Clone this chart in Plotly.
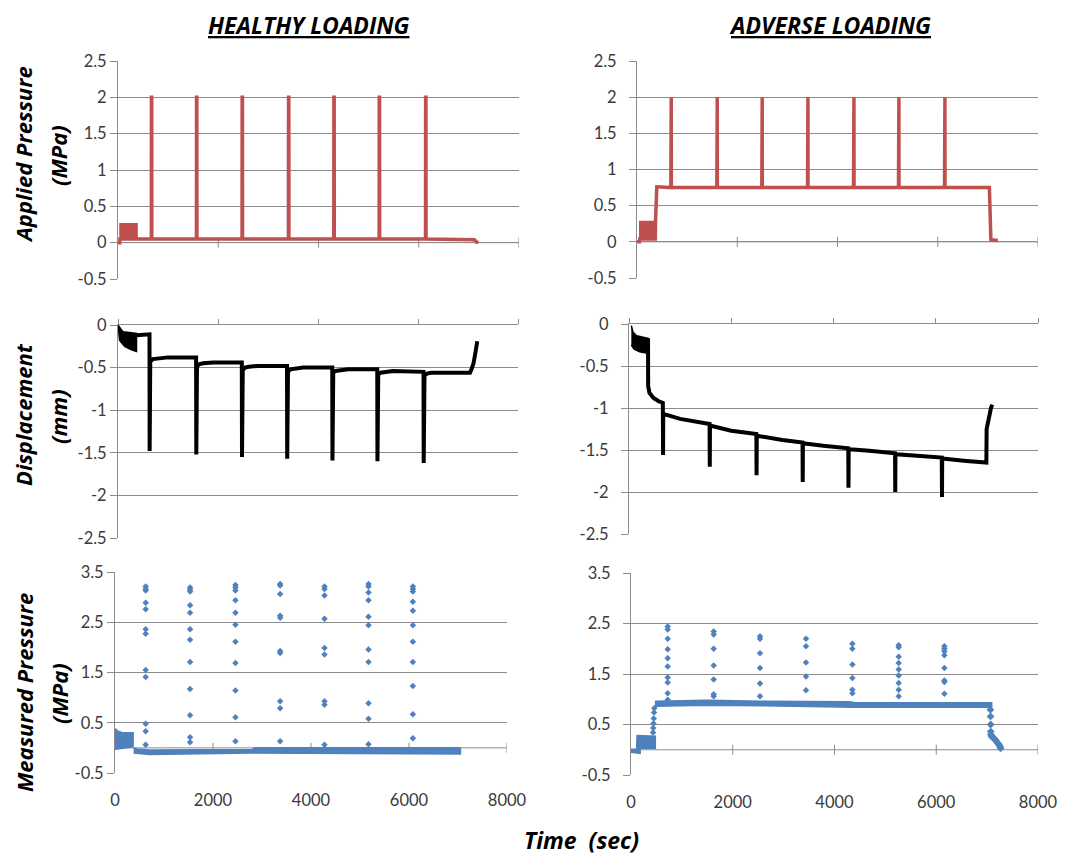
import plotly.graph_objects as go

W, H = 1077, 855
RED = "#C0504D"
BLUE = "#4F81BD"
BLACK = "#000000"
GRID = "#8c8c8c"
TXT = "#3a3a3a"
FONT = "Lato"
TFONT = "Open Sans"

# ---------------- data ----------------
time_ticks = [0, 2000, 4000, 6000, 8000]

# Applied pressure, healthy loading (MPa)
ha_t = [0, 35, 40, 665, 667, 673, 675, 1565, 1567, 1573, 1575, 2475, 2477, 2483, 2485,
        3400, 3402, 3408, 3410, 4305, 4307, 4313, 4315, 5210, 5212, 5218, 5220,
        6135, 6137, 6143, 6145, 7060, 7110, 7150, 7190]
ha_p = [0, 0, 0.05, 0.05, 2, 2, 0.05, 0.05, 2, 2, 0.05, 0.05, 2, 2, 0.05,
        0.05, 2, 2, 0.05, 0.05, 2, 2, 0.05, 0.05, 2, 2, 0.05,
        0.05, 2, 2, 0.05, 0.05, 0.04, 0.01, 0.0]
ha_block_t = [40, 380, 380, 40, 40]
ha_block_p = [0.05, 0.05, 0.26, 0.26, 0.05]

# Applied pressure, adverse loading (MPa)
aa_t = [0, 50, 55, 365, 370, 395, 675, 677, 683, 685, 1593, 1595, 1601, 1603,
        2490, 2492, 2498, 2500, 3402, 3404, 3410, 3412, 4320, 4322, 4328, 4330,
        5217, 5219, 5225, 5227, 6135, 6137, 6143, 6145, 7030, 7040, 7050, 7060, 7200]
aa_p = [0, 0, 0.04, 0.04, 0.3, 0.76, 0.75, 2, 2, 0.75, 0.75, 2, 2, 0.75,
        0.75, 2, 2, 0.75, 0.75, 2, 2, 0.75, 0.75, 2, 2, 0.75,
        0.75, 2, 2, 0.75, 0.75, 2, 2, 0.75, 0.75, 0.55, 0.22, 0.03, 0.02]
aa_block_t = [55, 370, 370, 55, 55]
aa_block_p = [0.04, 0.04, 0.28, 0.28, 0.04]

# Displacement, healthy loading (mm)
hd_block_t = [0, 100, 370, 370, 267, 133, 33, 0]
hd_block_d = [0, -0.08, -0.10, -0.31, -0.29, -0.25, -0.18, 0]
hd_t = [370, 630, 633, 637, 645, 700, 800, 1000,
        1562, 1566, 1570, 1580, 1620, 1700, 1900,
        2476, 2480, 2484, 2495, 2540, 2620, 2800,
        3380, 3384, 3388, 3400, 3450, 3530, 3700,
        4285, 4289, 4293, 4305, 4350, 4430, 4600,
        5185, 5189, 5193, 5205, 5250, 5330, 5500,
        6110, 6114, 6118, 6130, 6180, 6260, 6450,
        7040, 7070, 7110, 7150, 7185]
hd_d = [-0.12, -0.11, -1.48, -0.50, -0.43, -0.40, -0.39, -0.38,
        -0.38, -1.52, -0.56, -0.49, -0.46, -0.45, -0.44,
        -0.44, -1.55, -0.58, -0.53, -0.50, -0.49, -0.48,
        -0.48, -1.57, -0.60, -0.55, -0.52, -0.51, -0.50,
        -0.50, -1.59, -0.61, -0.56, -0.54, -0.53, -0.52,
        -0.52, -1.60, -0.62, -0.58, -0.56, -0.55, -0.54,
        -0.55, -1.62, -0.63, -0.59, -0.57, -0.56, -0.56,
        -0.56, -0.52, -0.45, -0.32, -0.19]

# Displacement, adverse loading (mm)
ad_block_t = [46, 80, 150, 372, 372, 209, 100, 46]
ad_block_d = [-0.02, -0.10, -0.14, -0.17, -0.35, -0.33, -0.30, -0.25]
ad_t = [372, 375, 400, 480, 580, 662, 666, 670, 1000, 1576, 1580, 1584, 2000,
        2491, 2495, 2499, 3000, 3394, 3398, 3402, 3800, 4289, 4293, 4297, 4700,
        5204, 5208, 5212, 5700, 6118, 6122, 6126, 6600, 6990, 6995, 7010, 7040, 7080, 7105]
ad_d = [-0.17, -0.74, -0.82, -0.88, -0.92, -0.94, -1.56, -1.07, -1.13, -1.19, -1.70, -1.21, -1.27,
        -1.31, -1.80, -1.33, -1.38, -1.41, -1.88, -1.42, -1.45, -1.48, -1.95, -1.49, -1.51,
        -1.54, -2.00, -1.55, -1.57, -1.59, -2.06, -1.60, -1.63, -1.65, -1.25, -1.20, -1.10, -1.00, -0.96]

# Measured pressure, healthy loading (MPa)
hm_band1_t = [0, 10, 60, 150, 370, 370, 0]
hm_band1_p = [0.02, 0.38, 0.33, 0.30, 0.30, 0.02, -0.03]
hm_band2_t = [380, 450, 700, 2800, 2850, 7040, 7050, 7050, 2800, 700, 380]
hm_band2_p = [0.0, -0.02, -0.04, -0.03, 0.0, 0.0, -0.03, -0.12, -0.10, -0.13, -0.10]
hm_col_t = [626, 1532, 2458, 3370, 4275, 5174, 6079]
hm_col_p = [
    [3.21, 3.16, 3.13, 2.89, 2.76, 2.36, 2.27, 1.55, 1.41, 0.48, 0.33, 0.06],
    [3.19, 3.15, 3.11, 2.84, 2.69, 2.36, 2.15, 1.71, 1.17, 0.65, 0.21, 0.11],
    [3.24, 3.19, 3.13, 2.94, 2.69, 2.45, 2.11, 1.69, 1.14, 0.61, 0.13],
    [3.26, 3.23, 3.06, 2.63, 2.59, 1.93, 1.89, 0.93, 0.79, 0.13],
    [3.21, 3.16, 3.03, 2.57, 1.99, 1.86, 0.93, 0.86, 0.06],
    [3.26, 3.21, 3.09, 2.94, 2.61, 2.44, 1.96, 1.71, 0.89, 0.58, 0.07],
    [3.21, 3.16, 3.11, 2.91, 2.73, 2.44, 2.11, 1.71, 1.23, 0.67, 0.19],
]

# Measured pressure, adverse loading (MPa)
am_band0_t = [0, 180, 180, 0, 0]
am_band0_p = [0.01, 0.01, -0.07, -0.05, 0.01]
am_band1_t = [110, 120, 478, 478, 110]
am_band1_p = [0.03, 0.28, 0.27, 0.03, 0.03]
am_rise_t = [432, 437, 442, 447, 452, 458]
am_rise_p = [0.34, 0.43, 0.52, 0.62, 0.74, 0.82]
am_band2_t = [470, 1500, 2600, 4300, 4400, 7090, 7090, 4400, 2600, 1500, 470]
am_band2_p = [0.96, 0.98, 0.96, 0.95, 0.93, 0.93, 0.84, 0.84, 0.87, 0.88, 0.86]
am_drop_t = [7065, 7067, 7069, 7071, 7075, 7085, 7100, 7120, 7140, 7160, 7180, 7200, 7220, 7240, 7255, 7265]
am_drop_p = [0.79, 0.66, 0.50, 0.36, 0.30, 0.27, 0.25, 0.24, 0.22, 0.20, 0.17, 0.14, 0.12, 0.09, 0.06, 0.03]
am_col_t = [721, 1625, 2536, 3440, 4351, 5262, 6160]
am_col_p = [
    [2.44, 2.38, 2.20, 1.99, 1.81, 1.65, 1.43, 1.33, 1.12, 0.99],
    [2.34, 2.28, 2.00, 1.67, 1.39, 1.10, 1.06],
    [2.25, 2.20, 1.91, 1.62, 1.31, 1.06],
    [2.20, 2.05, 1.73, 1.45, 1.18],
    [2.10, 2.00, 1.69, 1.42, 1.19, 1.12],
    [2.07, 2.03, 1.84, 1.72, 1.59, 1.47, 1.32, 1.19, 1.06],
    [2.05, 2.00, 1.95, 1.87, 1.62, 1.37, 1.34, 1.11],
]

# axis tick values per row
row_ticks = {
    1: [-0.5, 0, 0.5, 1, 1.5, 2, 2.5],
    2: [-2.5, -2, -1.5, -1, -0.5, 0],
    3: [-0.5, 0.5, 1.5, 2.5, 3.5],
}
row_range = {1: [-0.5, 2.5], 2: [-2.5, 0], 3: [-0.5, 3.5]}

# panel pixel boxes in the picture: (left, right, top, bottom), row, column
panels = {
    1: ((118, 519, 61, 279), 1, 1),
    2: ((637, 1038, 61, 278), 1, 2),
    3: ((118, 518, 325, 538), 2, 1),
    4: ((629, 1038, 324, 534), 2, 2),
    5: ((115, 507, 572, 773), 3, 1),
    6: ((631, 1038, 573, 775), 3, 2),
}

def px(x):
    return x / W

def py(y):
    return 1 - y / H

def fmt(v):
    return ("%g" % v).replace("\u2212", "-")

fig = go.Figure()

def ax(i):
    return ("x" if i == 1 else "x%d" % i), ("y" if i == 1 else "y%d" % i)

# ---- traces ----
def poly(i, t, v, color):
    xa, ya = ax(i)
    fig.add_trace(go.Scatter(x=t, y=v, xaxis=xa, yaxis=ya, mode="lines", fill="toself",
                             fillcolor=color, line=dict(color=color, width=1.5),
                             hoverinfo="skip", showlegend=False))

def line(i, t, v, color, width):
    xa, ya = ax(i)
    fig.add_trace(go.Scatter(x=t, y=v, xaxis=xa, yaxis=ya, mode="lines",
                             line=dict(color=color, width=width),
                             hoverinfo="skip", showlegend=False))

def pts(i, t, v, color, size=5):
    xa, ya = ax(i)
    fig.add_trace(go.Scatter(x=t, y=v, xaxis=xa, yaxis=ya, mode="markers",
                             marker=dict(color=color, size=size, symbol="diamond"),
                             hoverinfo="skip", showlegend=False))

def cols(i, col_t, col_p, color):
    xs, ys = [], []
    for t, vals in zip(col_t, col_p):
        for v in vals:
            xs.append(t)
            ys.append(v)
    pts(i, xs, ys, color)

# Applied pressure
poly(1, ha_block_t, ha_block_p, RED)
line(1, ha_t, ha_p, RED, 3.5)
poly(2, aa_block_t, aa_block_p, RED)
line(2, aa_t, aa_p, RED, 3.5)
# Displacement
poly(3, hd_block_t, hd_block_d, BLACK)
line(3, hd_t, hd_d, BLACK, 4)
poly(4, ad_block_t, ad_block_d, BLACK)
line(4, ad_t, ad_d, BLACK, 4)
# Measured pressure
poly(5, hm_band1_t, hm_band1_p, BLUE)
poly(5, hm_band2_t, hm_band2_p, BLUE)
cols(5, hm_col_t, hm_col_p, BLUE)
poly(6, am_band0_t, am_band0_p, BLUE)
poly(6, am_band1_t, am_band1_p, BLUE)
pts(6, am_rise_t, am_rise_p, BLUE)
poly(6, am_band2_t, am_band2_p, BLUE)
pts(6, am_drop_t, am_drop_p, BLUE, 6)
cols(6, am_col_t, am_col_p, BLUE)

# ---- axes ----
layout = dict(
    width=W, height=H, margin=dict(l=0, r=0, t=0, b=0),
    paper_bgcolor="white", plot_bgcolor="white",
    font=dict(family=FONT, size=16, color=TXT),
    showlegend=False,
)
TICKF = dict(family=FONT, size=16.5, color=TXT)
shapes = []
for i, ((l, r, t, b), row, col) in panels.items():
    xkey = "xaxis" if i == 1 else "xaxis%d" % i
    ykey = "yaxis" if i == 1 else "yaxis%d" % i
    xa, ya = ax(i)
    xdom = [px(l), px(r)]
    ydom = [py(b), py(t)]
    xdict = dict(domain=xdom, range=[0, 8000], anchor=ya, showgrid=False, zeroline=False,
                 tickvals=time_ticks, ticktext=[str(v) for v in time_ticks],
                 fixedrange=True, automargin=False)
    if row == 3:
        xdict.update(showline=False, showticklabels=True, ticks="outside", ticklen=12,
                     tickcolor="rgba(0,0,0,0)", tickfont=TICKF)
    elif row == 2:
        xdict.update(side="top", showline=True, linecolor=GRID, linewidth=1,
                     ticks="outside", ticklen=5, tickcolor=GRID, showticklabels=False)
    else:
        xdict.update(showline=False, showticklabels=False, ticks="")
    layout[xkey] = xdict
    tv = row_ticks[row]
    layout[ykey] = dict(domain=ydom, range=row_range[row], anchor=xa, showgrid=True,
                        gridcolor=GRID, gridwidth=1, zeroline=False, showline=True,
                        linecolor=GRID, linewidth=1, ticks="outside", ticklen=7,
                        tickcolor=GRID, tickvals=tv, ticktext=[fmt(v) for v in tv],
                        ticklabelstandoff=(9 if col == 2 else 0), automargin=False,
                        tickfont=TICKF, fixedrange=True)
    if row in (1, 3):
        shapes.append(dict(type="line", xref=xa, yref=ya, x0=0, x1=8000, y0=0, y1=0,
                           line=dict(color=GRID, width=1), layer="between"))
        for tk in time_ticks[1:]:
            shapes.append(dict(type="line", xref=xa, yref=ya, x0=tk, x1=tk,
                               ysizemode="pixel", yanchor=0, y0=-5, y1=5,
                               line=dict(color=GRID, width=1), layer="between"))
layout["shapes"] = shapes

TF = dict(family=TFONT, size=23, color="black")
YF = dict(family=TFONT, size=22, color="black")
ann = [
    dict(text="<b><i><u>HEALTHY LOADING</u></i></b>", x=px(309), y=py(25), font=TF),
    dict(text="<b><i><u>ADVERSE LOADING</u></i></b>", x=px(830), y=py(25), font=TF),
    dict(text="<b><i>Time  (sec)</i></b>", x=px(581), y=py(840), font=TF),
    dict(text="<b><i>Applied Pressure</i></b>", x=px(23), y=py(155), font=YF, textangle=-90),
    dict(text="<b><i>(MPa)</i></b>", x=px(58), y=py(156), font=YF, textangle=-90),
    dict(text="<b><i>Displacement</i></b>", x=px(23), y=py(415), font=YF, textangle=-90),
    dict(text="<b><i>(mm)</i></b>", x=px(58), y=py(417), font=YF, textangle=-90),
    dict(text="<b><i>Measured Pressure</i></b>", x=px(24), y=py(693), font=YF, textangle=-90),
    dict(text="<b><i>(MPa)</i></b>", x=px(59), y=py(694), font=YF, textangle=-90),
]
for a in ann:
    a.update(xref="paper", yref="paper", showarrow=False, xanchor="center", yanchor="middle")
layout["annotations"] = ann

fig.update_layout(**layout)
fig.write_html("out.html")
